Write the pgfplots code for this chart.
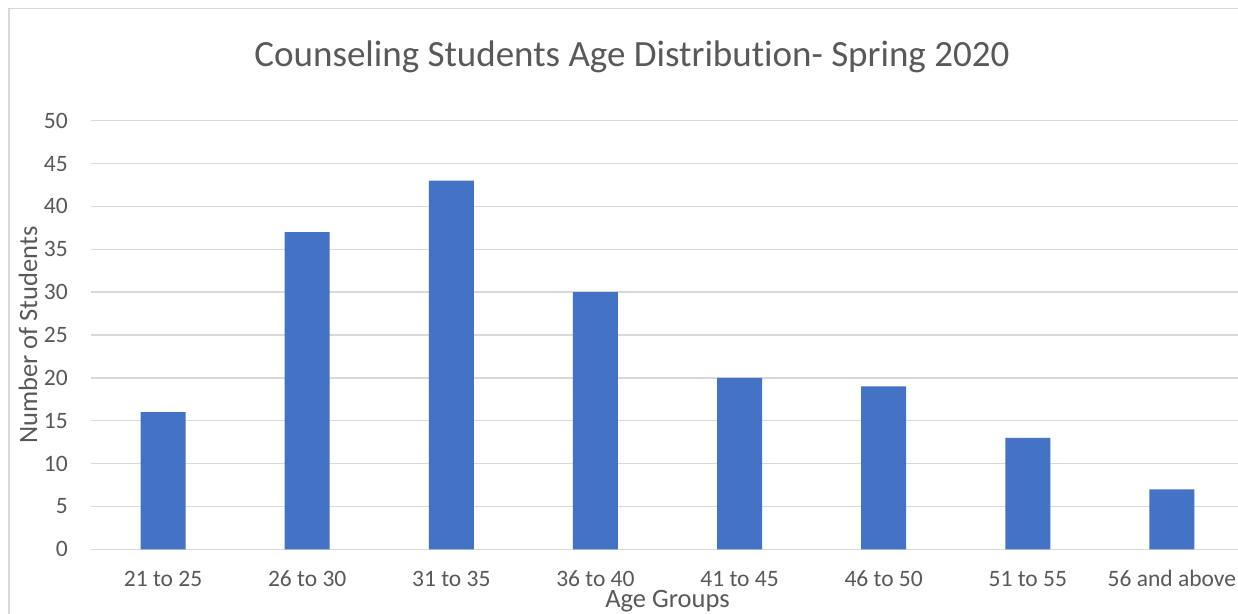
\documentclass[border=0pt]{standalone}
\usepackage{pgfplots}
\pgfplotsset{compat=1.18}
\usepackage{fontspec}
\setmainfont[Ligatures={NoCommon}]{Carlito}
\definecolor{barblue}{HTML}{4472C4}
\definecolor{txt}{HTML}{595959}
\definecolor{gridc}{HTML}{D9D9D9}
\begin{document}
\begin{tikzpicture}[x=1pt,y=1pt]
\clip (0,0) rectangle (1238,613);
\fill[white] (0,0) rectangle (1238,613);
\draw[gridc, line width=1.3pt] (9,-20) -- (9,604.5) -- (1260,604.5);
\node[txt, font=\fontsize{37}{40}\selectfont, anchor=base] at (632,546.5) {Counseling Students Age Distribution- Spring 2020};
\begin{axis}[
  at={(91pt,63.7pt)}, anchor=south west,
  scale only axis, width=1153pt, height=428.6pt,
  xmin=-0.5, xmax=7.5, ymin=0, ymax=50,
  ytick={0,5,...,50},
  xtick={0,...,7},
  xticklabels={21 to 25,26 to 30,31 to 35,36 to 40,41 to 45,46 to 50,51 to 55,56 and above},
  /pgf/number format/assume math mode=true,
  ymajorgrids, grid style={gridc, line width=1.3pt},
  axis line style={draw=none},
  major tick length=0pt,
  tick label style={txt, font=\fontsize{23.5}{26}\selectfont},
  xticklabel style={anchor=base, inner sep=0pt, yshift=-37pt},
  yticklabel style={anchor=east, inner sep=0pt, xshift=-23pt},
  xlabel={Age Groups}, ylabel={Number of Students},
  label style={txt, font=\fontsize{26.5}{28}\selectfont},
  xlabel style={at={(axis description cs:0.5,0)}, anchor=base, inner sep=0pt, yshift=-58.5pt},
  ylabel style={at={(axis description cs:-0.0468,0.5)}, anchor=base, inner sep=0pt, rotate=0},
  ybar, bar width=45pt,
]
\addplot[fill=barblue, draw=none] coordinates {(0,16) (1,37) (2,43) (3,30) (4,20) (5,19) (6,13) (7,7)};
\end{axis}
\end{tikzpicture}
\end{document}
